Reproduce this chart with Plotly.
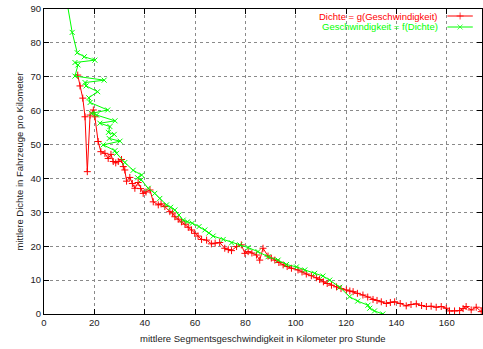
import plotly.graph_objects as go

# Red series: Dichte = g(Geschwindigkeit)
red_x = [13.4, 14.3, 15.4, 16.3, 17.2, 18.3, 19.6, 20.2, 21.5, 22.6, 24.2, 25.5, 26.6, 27.5, 28.5,
         29.5, 30.8, 31.5, 32.1, 32.8, 34.1, 35.1, 36.1, 37.4, 38.4, 39.4, 40.5, 42.1, 43.4, 45.4,
         46.5, 48.0, 50.0, 51.0, 52.0, 53.3, 54.6, 56.0, 57.3, 58.6, 59.9, 61.2, 62.6, 64.6, 66.5,
         68.0, 69.8, 71.8, 73.2, 74.5, 76.5, 78.4, 79.8, 81.1, 82.6, 84.4, 85.7, 87.0, 89.0, 90.3,
         91.7, 93.3, 95.0, 96.6, 98.3, 100.9, 102.5, 104.2, 106.2, 108.2, 109.5, 111.0, 112.5, 114.2,
         116.2, 118.0, 120.1, 121.5, 122.8, 124.5, 126.7, 128.6, 130.7, 132.3, 134.0, 136.0, 137.6,
         139.3, 141.5, 143.9, 145.8, 147.9, 150.0, 151.9, 153.8, 155.8, 157.8, 159.8, 161.1, 163.1,
         165.1, 166.5, 167.7, 169.7, 171.7, 173.7, 174.5]
red_y = [70.5, 67.3, 63.7, 58.2, 42.0, 58.7, 60.2, 58.2, 50.9, 47.9, 47.4, 45.9, 47.1, 45.0, 44.6,
         45.0, 45.6, 43.5, 42.5, 39.2, 40.3, 38.5, 37.1, 38.8, 37.0, 35.6, 36.0, 36.6, 33.1, 32.2,
         32.5, 31.7, 30.2, 29.8, 28.7, 28.0, 27.2, 26.5, 25.6, 24.8, 23.8, 23.0, 22.0, 21.8, 20.7,
         20.9, 21.1, 19.4, 19.0, 18.7, 19.9, 20.4, 17.9, 18.4, 18.0, 17.4, 15.9, 19.4, 17.1, 16.5,
         15.9, 15.2, 14.5, 14.0, 13.5, 13.0, 12.4, 11.8, 11.3, 10.7, 10.2, 9.5, 9.0, 8.5,
         8.0, 7.5, 7.1, 6.8, 6.6, 6.1, 5.6, 5.0, 4.3, 4.0, 3.6, 3.1, 3.4,
         3.6, 3.1, 2.4, 2.8, 3.0, 2.5, 2.2, 2.3, 2.0, 2.2, 1.7, 0.9, 0.9,
         1.0, 1.6, 2.2, 1.2, 2.0, 0.7, 1.8]

# Green series: Geschwindigkeit = f(Dichte)
green_x = [9.0, 11.2, 13.2, 16.0, 20.2, 12.3, 13.5, 12.3, 23.9, 16.3, 16.7, 21.3, 17.8, 18.3, 25.3,
           18.9, 20.9, 28.2, 22.2, 26.2, 25.6, 27.9, 25.9, 30.2, 23.5, 28.2, 28.8, 32.1, 35.4, 38.8,
           37.2, 38.6, 41.4, 44.0, 46.0, 48.7, 50.3, 52.0, 53.6, 55.3, 57.0, 58.9, 61.6, 63.9, 65.5,
           67.2, 71.2, 74.5, 77.8, 81.1, 85.0, 89.0, 93.0, 96.3, 100.3, 103.6, 107.5, 110.8, 113.5,
           117.5, 121.4, 124.6, 128.7, 129.4, 131.3, 134.6]
green_y = [92.5, 83.1, 77.1, 75.9, 74.9, 74.2, 73.5, 70.2, 69.0, 68.3, 67.3, 65.6, 63.8, 62.4, 60.2,
           59.2, 58.7, 57.0, 56.3, 55.3, 53.6, 53.0, 51.8, 51.0, 49.9, 48.2, 47.4, 44.7, 42.4, 41.0,
           40.2, 39.6, 37.1, 35.6, 34.1, 32.2, 31.5, 30.7, 29.2, 27.7, 27.2, 26.8, 25.8, 24.8, 23.9,
           23.0, 22.0, 21.0, 20.4, 19.6, 18.4, 16.9, 15.9, 14.6, 13.9, 13.0, 12.0, 11.2, 10.0,
           7.9, 5.1, 3.8, 2.6, 1.7, 0.9, 0.0]

x_ticks = [0, 20, 40, 60, 80, 100, 120, 140, 160]
y_ticks = [0, 10, 20, 30, 40, 50, 60, 70, 80, 90]

red_name = "Dichte = g(Geschwindigkeit)"
green_name = "Geschwindigkeit = f(Dichte)"
x_title = "mittlere Segmentsgeschwindigkeit in Kilometer pro Stunde"
y_title = "mittlere Dichte in Fahrzeuge pro Kilometer"

RED = "#ff0000"
GREEN = "#00ff00"
FONT = "Liberation Sans, Arial, sans-serif"
TXT = "#222222"

fig = go.Figure()
fig.add_trace(go.Scatter(x=red_x, y=red_y, mode="lines+markers", name=red_name,
                         line=dict(color=RED, width=1),
                         marker=dict(symbol="cross-thin-open", size=5, color=RED,
                                     line=dict(color=RED, width=1)),
                         showlegend=False, cliponaxis=True))
fig.add_trace(go.Scatter(x=green_x, y=green_y, mode="lines+markers", name=green_name,
                         line=dict(color=GREEN, width=1),
                         marker=dict(symbol="x-thin-open", size=5, color=GREEN,
                                     line=dict(color=GREEN, width=1)),
                         showlegend=False, cliponaxis=True))

# gnuplot-style key: text right-aligned, sample to the right
key_rows = [(red_name, RED, "cross-thin-open", 5, 0.977),
            (green_name, GREEN, "x-thin-open", 5, 0.941)]
for name, col, sym, sz, ky in key_rows:
    fig.add_annotation(x=0.905, y=ky, xref="paper", yref="paper", text=name,
                       showarrow=False, xanchor="right", yanchor="middle",
                       font=dict(color=col, size=9.5, family=FONT))
    fig.add_trace(go.Scatter(x=[0.921, 0.950, 0.979], y=[ky, ky, ky], xaxis="x2", yaxis="y2",
                             mode="lines+markers", line=dict(color=col, width=1),
                             marker=dict(symbol=sym, size=[0, sz, 0], color=col,
                                         line=dict(color=col, width=1)),
                             showlegend=False, hoverinfo="skip"))

# axis titles
fig.add_annotation(x=0.5, y=-0.079, xref="paper", yref="paper", text=x_title,
                   showarrow=False, xanchor="center", yanchor="middle",
                   font=dict(size=9.5, family=FONT, color=TXT))
fig.add_annotation(x=-0.055, y=0.5, xref="paper", yref="paper", text=y_title,
                   showarrow=False, xanchor="center", yanchor="middle", textangle=-90,
                   font=dict(size=9.5, family=FONT, color=TXT))

axis_common = dict(showline=True, linecolor="black", linewidth=1, mirror="allticks",
                   ticks="inside", ticklen=5, tickcolor="black", tickwidth=1,
                   showgrid=True, gridcolor="#8a8a8a", griddash="dot", gridwidth=1,
                   zeroline=False, automargin=False,
                   tickfont=dict(size=9.5, family=FONT, color=TXT))

fig.update_layout(
    width=483, height=349,
    margin=dict(l=44, r=1, t=9, b=35),
    paper_bgcolor="white", plot_bgcolor="white",
    font=dict(family=FONT, size=9.5, color=TXT),
    xaxis=dict(range=[0, 174], tickvals=x_ticks, ticktext=[str(v) for v in x_ticks],
               **axis_common),
    yaxis=dict(range=[0, 90], tickvals=y_ticks, ticktext=[str(v) for v in y_ticks],
               **axis_common),
    xaxis2=dict(range=[0, 1], overlaying="x", visible=False, fixedrange=True),
    yaxis2=dict(range=[0, 1], overlaying="y", visible=False, fixedrange=True),
)

fig.write_html("out.html", config={"displayModeBar": False},
               post_script="document.body.style.margin='0';document.body.style.overflow='hidden';")
